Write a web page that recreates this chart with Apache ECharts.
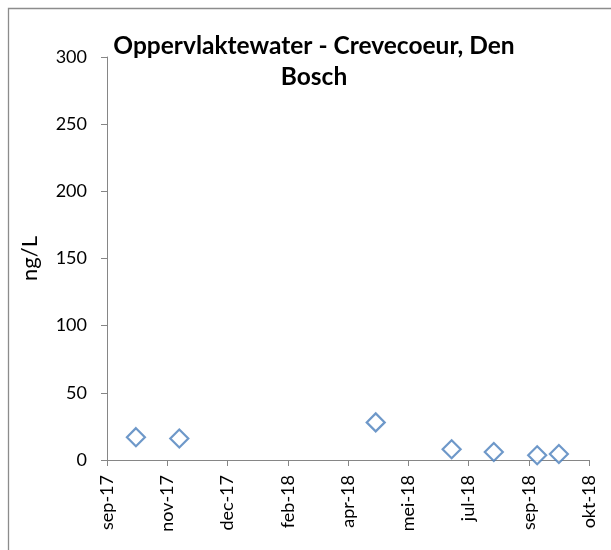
<!DOCTYPE html>
<html>
<head>
<meta charset="utf-8">
<script src="https://cdn.jsdelivr.net/npm/echarts@6/dist/echarts.min.js"></script>
<style>
  html, body { margin: 0; padding: 0; background: #fff; }
  #chart { width: 611px; height: 550px; }
</style>
</head>
<body>
<div id="chart"></div>
<script>
// ---- data ----
const sampleDates = ['2017-10-16', '2017-11-21', '2018-05-03', '2018-07-05', '2018-08-09', '2018-09-14', '2018-10-02'];
const sampleValues = [17, 16, 28, 8, 6, 3.5, 4.5];
const monthNames = ['jan', 'feb', 'mrt', 'apr', 'mei', 'jun', 'jul', 'aug', 'sep', 'okt', 'nov', 'dec'];
const yTicks = [0, 50, 100, 150, 200, 250, 300];
const titleText = 'Oppervlaktewater - Crevecoeur, Den\nBosch';
const yAxisName = 'ng/L';

// Excel-style date serials
const EPOCH = Date.UTC(1899, 11, 30);
function toSerial(s) {
  const p = s.split('-').map(Number);
  return Math.round((Date.UTC(p[0], p[1] - 1, p[2]) - EPOCH) / 86400000);
}
function serialLabel(v) {
  const d = new Date(EPOCH + v * 86400000);
  return monthNames[d.getUTCMonth()] + '-' + String(d.getUTCFullYear()).slice(2);
}
const points = sampleDates.map((d, i) => [toSerial(d), sampleValues[i]]);

const FONT = 'Lato, "Open Sans", sans-serif';
const axisGray = '#868686';

const chart = echarts.init(document.getElementById('chart'), null, { renderer: 'canvas' });
chart.setOption({
  animation: false,
  backgroundColor: '#fff',
  title: {
    text: titleText,
    left: 314,
    top: 31,
    padding: 0,
    textAlign: 'center',
    textStyle: { fontFamily: FONT, fontSize: 24.5, fontWeight: 'bold', color: '#000', lineHeight: 31 }
  },
  graphic: [{
    type: 'rect',
    shape: { x: 8.5, y: 8.5, width: 800, height: 800 },
    style: { fill: 'none', stroke: '#8c8c8c', lineWidth: 1.3 },
    silent: true
  }],
  grid: { left: 107, right: 22, top: 57, bottom: 90 },
  xAxis: {
    type: 'value',
    min: 43000,
    max: 43400,
    interval: 50,
    splitLine: { show: false },
    axisLine: { show: true, onZero: false, lineStyle: { color: axisGray, width: 1 } },
    axisTick: { show: true, length: 6, lineStyle: { color: axisGray } },
    axisLabel: {
      rotate: 90,
      margin: 15,
      fontFamily: FONT,
      fontSize: 18,
      color: '#000',
      formatter: v => serialLabel(v)
    }
  },
  yAxis: {
    type: 'value',
    min: yTicks[0],
    max: yTicks[yTicks.length - 1],
    interval: 50,
    name: yAxisName,
    nameLocation: 'middle',
    nameGap: 66,
    nameRotate: 90,
    nameTextStyle: { fontFamily: FONT, fontSize: 22, color: '#000' },
    splitLine: { show: false },
    axisLine: { show: true, lineStyle: { color: axisGray, width: 1 } },
    axisTick: { show: true, length: 6, lineStyle: { color: axisGray } },
    axisLabel: { margin: 20, fontFamily: FONT, fontSize: 18, color: '#000' }
  },
  series: [{
    type: 'scatter',
    data: points,
    symbol: 'diamond',
    symbolSize: 18,
    itemStyle: { color: '#fff', borderColor: '#4a7ebb', borderWidth: 2.2 }
  }]
});
</script>
</body>
</html>
